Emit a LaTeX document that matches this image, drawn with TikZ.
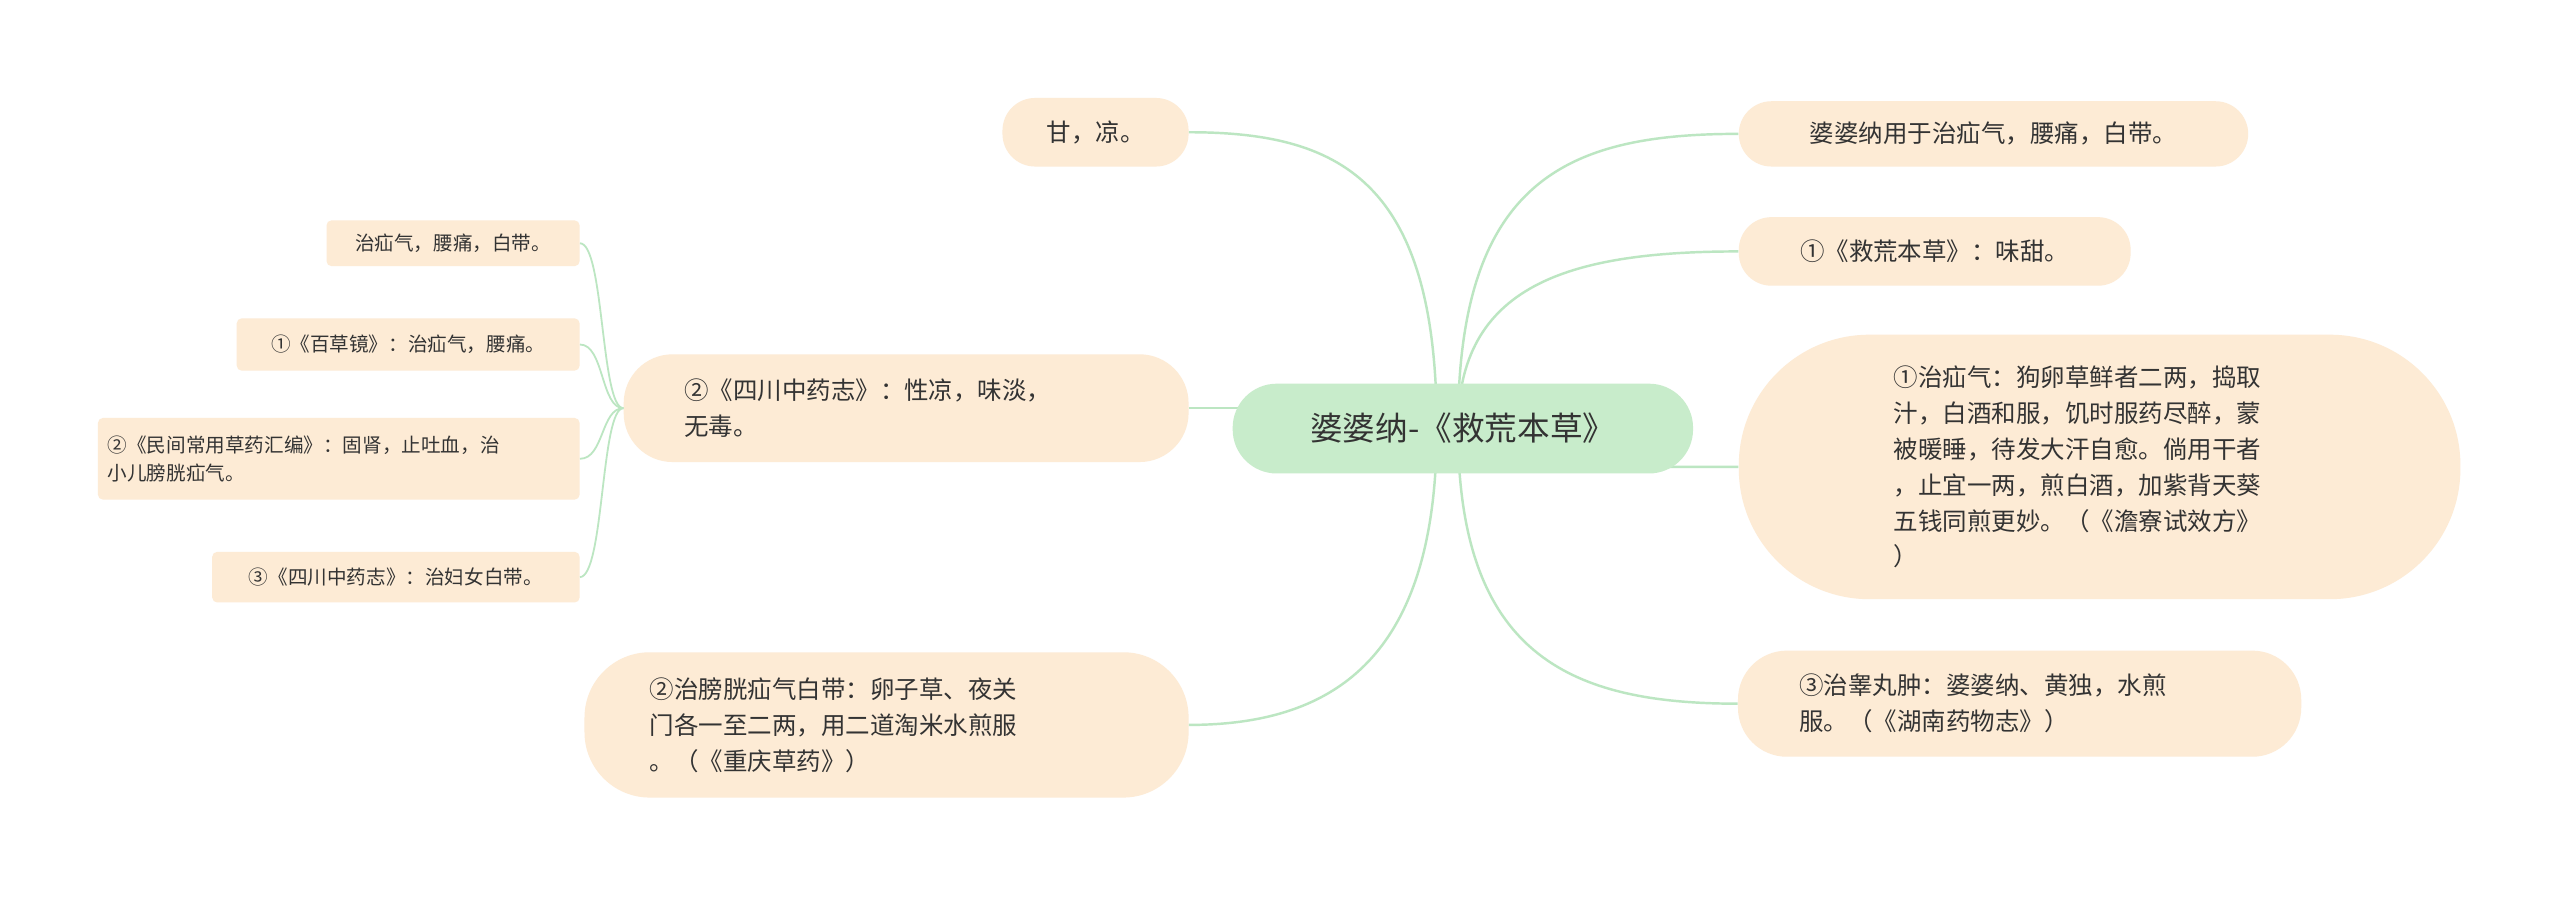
\documentclass[tikz,border=0pt]{standalone}
\usepackage{fontspec}
\setmainfont{Noto Sans CJK SC}
\begin{document}
\begin{tikzpicture}[x=1pt,y=-1pt,
  box/.style={fill=boxfill,rounded corners=#1,inner sep=0pt,text=txt,align=left,font=\fontsize{15}{22}\selectfont},
  box/.default=20pt,
  sbox/.style={fill=boxfill,rounded corners=3pt,inner sep=0pt,text=txt,align=left,font=\fontsize{12}{17}\selectfont},
  con/.style={draw=linec,line width=1.5pt},
  scon/.style={draw=linec,line width=1.1pt}]
\definecolor{boxfill}{HTML}{FDEBD5}
\definecolor{cfill}{HTML}{C8ECCB}
\definecolor{linec}{HTML}{BCE6C2}
\definecolor{txt}{HTML}{333333}
\useasboundingbox[fill=white] (0,0) rectangle (1568,549);
% links under nodes
\coordinate (cr) at (893,262);
\coordinate (cl) at (880,262);
\node[box, minimum width=312, minimum height=40] (R1) at (1221,82) {婆婆纳用于治疝气，腰痛，白带。};
\node[box, minimum width=240, minimum height=42] (R2) at (1185,154) {①《救荒本草》：味甜。};
\node[box=80pt, minimum width=442, minimum height=162] (R3) at (1286,286) {\parbox{252pt}{\fontsize{15}{22}\selectfont ①治疝气：狗卵草鲜者二两，捣取\\汁，白酒和服，饥时服药尽醉，蒙\\被暖睡，待发大汗自愈。倘用干者\\，止宜一两，煎白酒，加紫背天葵\\五钱同煎更妙。（《澹寮试效方》\\）}};
\node[box=30pt, minimum width=345, minimum height=65] (R4) at (1237,431) {\parbox{270pt}{\fontsize{15}{22}\selectfont ③治睾丸肿：婆婆纳、黄独，水煎\\服。（《湖南药物志》）}};
\node[box, minimum width=114, minimum height=42] (L1) at (671,81) {甘，凉。};
\node[box=30pt, minimum width=346, minimum height=66] (L2) at (555,250) {\parbox{272pt}{\fontsize{15}{22}\selectfont ②《四川中药志》：性凉，味淡，\\无毒。}};
\node[box=40pt, minimum width=370, minimum height=89] (L3) at (543,444) {\parbox{290pt}{\fontsize{15}{22}\selectfont ②治膀胱疝气白带：卵子草、夜关\\门各一至二两，用二道淘米水煎服\\。（《重庆草药》）}};
\node[sbox, minimum width=155, minimum height=28] (S1) at (277.5,149) {治疝气，腰痛，白带。};
\node[sbox, minimum width=210, minimum height=32] (S2) at (250,211) {①《百草镜》：治疝气，腰痛。};
\node[sbox, minimum width=295, minimum height=50] (S3) at (207.5,281) {\parbox{283pt}{\fontsize{12}{17}\selectfont ②《民间常用草药汇编》：固肾，止吐血，治\\小儿膀胱疝气。}};
\node[sbox, minimum width=225, minimum height=31] (S4) at (242.5,353.5) {③《四川中药志》：治妇女白带。};
\begin{scope}[on background layer/.style={}]
\end{scope}
\draw[con] (cr) .. controls (893,110) and (960,82) .. (R1.west);
\draw[con] (cr) .. controls (893,175) and (960,154) .. (R2.west);
\draw[con] (cr) .. controls (893,286) and (960,286) .. (R3.west);
\draw[con] (cr) .. controls (893,400) and (960,431) .. (R4.west);
\draw[con] (cl) .. controls (880,110) and (820,81) .. (L1.east);
\draw[con] (cl) .. controls (880,400) and (820,444) .. (L3.east);
\draw[con] (L2.east) -- (780,250);
\draw[scon] (L2.west) .. controls (368,250) and (370,149) .. (S1.east);
\draw[scon] (L2.west) .. controls (368,250) and (370,211) .. (S2.east);
\draw[scon] (L2.west) .. controls (368,250) and (370,281) .. (S3.east);
\draw[scon] (L2.west) .. controls (368,250) and (370,353) .. (S4.east);
\node[fill=cfill, rounded corners=27pt, minimum width=282, minimum height=55, inner sep=0pt, text=txt, font=\fontsize{20}{24}\selectfont] (C) at (896,262.5) {婆婆纳-《救荒本草》};
\end{tikzpicture}
\end{document}
